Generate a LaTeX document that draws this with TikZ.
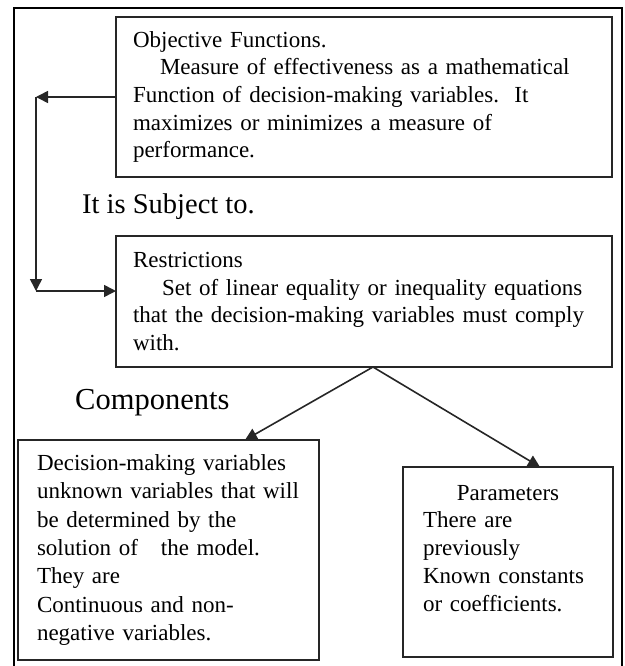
\documentclass[tikz,border=0pt]{standalone}
\usepackage{fontspec}
\setmainfont{Liberation Serif}
\usetikzlibrary{arrows.meta,positioning,calc}
\newcommand{\tightwords}{\spaceskip=0.17em plus 0.05em\relax}

\tikzset{
  boxtext/.style={draw=black!85, line width=1.8pt, anchor=north west, align=left,
    inner ysep=0pt, outer sep=0pt, font=\fontsize{23}{27.7}\selectfont},
  tightbox/.style={boxtext, font=\fontsize{23}{28.3}\selectfont\tightwords},
  link/.style={line width=1.6pt, draw=black!85, -{Triangle[length=12pt,width=12pt]}},
  caption/.style={anchor=base west, inner sep=0pt},
}

\begin{document}
\begin{tikzpicture}[x=1pt,y=-1pt]
\useasboundingbox (0,0) rectangle (624,666);
% outer frame
\draw[line width=2.2pt] (14,666) -- (14,8) -- (622,8) -- (622,666);

% boxes
\node[boxtext, minimum width=496pt, minimum height=160pt, text width=462pt, inner xsep=17pt] (objective) at (116,17)
  {Objective Functions.\\\hspace*{27pt}Measure of effectiveness as a mathematical\\Function of decision-making variables.~~It\\maximizes or minimizes a measure of\\performance.};
\node[boxtext, minimum width=496pt, minimum height=131pt, text width=462pt, inner xsep=17pt] (restrict) at (116,236)
  {Restrictions\\\hspace*{29pt}Set of linear equality or inequality equations\\that the decision-making variables must comply\\with.};
\node[tightbox, minimum width=301pt, minimum height=220pt, text width=263pt, inner xsep=19pt] (decision) at (18,440)
  {Decision-making variables\\unknown variables that will\\be determined by the\\solution of~~~the model.\\They are\\Continuous and non-\\negative variables.};
\node[boxtext, minimum width=210pt, minimum height=190pt, text width=170pt, inner xsep=20pt] (params) at (403,467)
  {\makebox[170pt]{Parameters}\\There are\\previously\\Known constants\\or coefficients.\\\mbox{}};

% captions
\node[caption, font=\fontsize{28.5}{34}\selectfont] (subject) at (82,213) {It is Subject to.};
\node[caption, font=\fontsize{30.5}{36}\selectfont] (components) at (75,409) {Components};

% loop on the left
\coordinate (bendtop) at ($(objective.west)+(-80,0)$);
\coordinate (restrictin) at ($(restrict.north west)+(0,55)$);
\coordinate (bendlow) at ($(restrictin)+(-80,0)$);
\draw[link] (objective.west) -- (bendtop);
\draw[link] (bendtop) -- (bendlow);
\draw[link] (bendlow) -- (restrictin);

% components
\coordinate (apex) at ($(restrict.south)+(9,0)$);
\draw[link] (apex) -- ($(decision.north west)+(227,0)$);
\draw[link] (apex) -- ($(params.north west)+(137,0)$);
\end{tikzpicture}
\end{document}
